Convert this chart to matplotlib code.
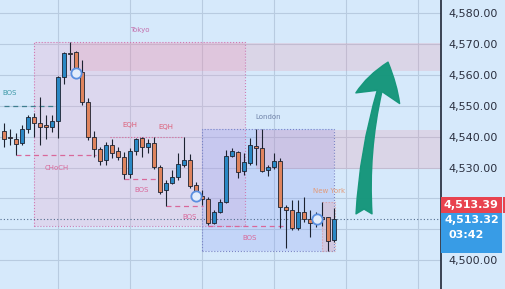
import matplotlib
matplotlib.use("Agg")
import matplotlib.pyplot as plt
from matplotlib.patches import Rectangle
from matplotlib.transforms import blended_transform_factory

# --- candles ---
OPEN = [4541.8, 4539.7, 4539.2, 4537.9, 4542.5, 4546.3, 4544.4, 4543.8, 4543.1, 4545.0,
        4559.3, 4567.1, 4567.4, 4560.9, 4551.2, 4539.9, 4536.0, 4532.4, 4537.3, 4535.3,
        4533.4, 4527.9, 4535.3, 4539.5, 4536.6, 4537.9, 4530.2, 4522.7, 4525.0, 4526.9,
        4530.8, 4532.4, 4524.3, 4520.8, 4519.8, 4512.0, 4515.6, 4518.8, 4533.7, 4535.0,
        4528.9, 4531.5, 4537.0, 4536.3, 4529.2, 4530.2, 4532.1, 4517.2, 4516.2, 4510.4,
        4515.6, 4513.3, 4513.3, 4514.0, 4514.0, 4506.6]
CLOSE = [4539.2, 4539.5, 4537.6, 4542.5, 4546.3, 4544.4, 4543.1, 4543.1, 4545.0, 4559.3,
         4567.1, 4566.7, 4562.2, 4551.2, 4539.9, 4536.0, 4532.1, 4537.3, 4534.7, 4533.4,
         4527.9, 4535.3, 4539.2, 4536.6, 4537.9, 4530.2, 4522.1, 4525.0, 4526.9, 4531.1,
         4532.4, 4524.0, 4522.1, 4519.8, 4512.0, 4515.6, 4518.8, 4533.7, 4535.3, 4528.5,
         4531.8, 4537.3, 4536.3, 4528.9, 4530.2, 4532.1, 4517.2, 4516.2, 4510.4, 4515.6,
         4513.3, 4512.0, 4513.0, 4513.3, 4506.2, 4513.32]
HIGH = [4544.4, 4542.5, 4541.2, 4543.8, 4547.0, 4547.6, 4552.8, 4547.0, 4547.0, 4559.5,
        4567.4, 4570.6, 4567.7, 4564.8, 4552.5, 4541.8, 4536.6, 4538.3, 4539.2, 4536.6,
        4535.0, 4536.3, 4539.5, 4539.9, 4539.2, 4539.9, 4530.8, 4526.0, 4529.2, 4534.7,
        4539.9, 4534.4, 4525.3, 4522.7, 4520.5, 4516.2, 4519.8, 4535.7, 4536.3, 4535.3,
        4534.7, 4539.5, 4542.5, 4542.5, 4530.8, 4534.7, 4533.1, 4517.9, 4519.5, 4519.5,
        4520.5, 4516.2, 4515.6, 4518.8, 4514.0, 4516.9]
LOW = [4536.6, 4537.3, 4534.0, 4537.3, 4541.2, 4539.9, 4537.3, 4539.2, 4541.5, 4539.5,
       4557.0, 4561.6, 4560.9, 4550.2, 4538.9, 4533.4, 4530.8, 4530.8, 4533.1, 4532.4,
       4526.3, 4526.6, 4534.0, 4533.4, 4534.7, 4529.5, 4521.4, 4517.5, 4524.7, 4526.0,
       4530.2, 4523.4, 4521.4, 4517.9, 4511.4, 4511.7, 4515.3, 4518.5, 4533.4, 4526.6,
       4527.6, 4530.8, 4530.8, 4528.5, 4527.2, 4529.5, 4510.4, 4504.0, 4509.8, 4509.8,
       4512.4, 4507.5, 4510.7, 4511.1, 4503.0, 4505.9]

PRICE_TICKS = [4500, 4510, 4520, 4530, 4540, 4550, 4560, 4570, 4580]
HIDDEN_TICKS = [4510, 4520]   # covered by the price tags
TIME_GRID = [9, 21, 33, 45, 57, 69]
LAST_PRICE = 4513.32
OTHER_PRICE = 4513.39
COUNTDOWN = "03:42"

# sessions: name, first bar, last bar, high, low
SESSIONS = [
    ("Tokyo", 5, 40.2, 4570.6, 4511.1),
    ("London", 33, 55, 4542.5, 4503.0),
    ("New York", 53, 55.2, 4518.8, 4503.0),
]
# supply zones: start bar, top, bottom
ZONES = [(11, 4570.3, 4561.3), (42, 4542.1, 4529.5)]

# structure levels: label, from bar, to bar, price, label bar, label price
LEVELS = [
    ("BOS", 0, 9, 4549.9, 1, 4554.1),
    ("CHoCH", 2, 15.3, 4534.0, 8.8, 4529.8),
    ("BOS", 20, 26, 4526.3, 23, 4522.7),
    ("BOS", 27, 33.2, 4517.5, 31, 4514.0),
    ("BOS", 34, 47, 4511.1, 41, 4507.2),
]
EQH_LINE = (17.7, 30, 4539.9)
EQH_LABELS = [(21, 4543.8), (27, 4543.1)]
CIRCLES_X = [12, 32, 52.2]
CIRCLES_Y = [4560.6, 4520.8, 4513.3]
ARROW_FROM = (60, 4515.0)
ARROW_TO = (64, 4564.1)

BG = "#d6e9fb"
BULL = "#2a88c4"
BEAR = "#df845e"
PINK = "#d9689a"

fig = plt.figure(figsize=(5.06, 2.89), dpi=100, facecolor=BG)
ax = fig.add_axes([0, 0, 441 / 506, 1])
ax.set_facecolor(BG)
ax.set_xlim(-0.67, 72.83)
ax.set_ylim(4490.7, 4584.2)

ax.set_yticks(PRICE_TICKS)
ax.set_yticklabels(["" if p in HIDDEN_TICKS else f"{p:,.2f}" for p in PRICE_TICKS])
ax.yaxis.tick_right()
ax.tick_params(axis="y", length=0, pad=5, labelsize=8, labelcolor="#2b3040")
ax.set_xticks(TIME_GRID)
ax.tick_params(axis="x", length=0, labelbottom=False)
ax.grid(color="#b8cbe0", lw=0.8)
ax.set_axisbelow(True)
for side in ["left", "top", "bottom"]:
    ax.spines[side].set_visible(False)
ax.spines["right"].set_color("#1f2636")
ax.spines["right"].set_linewidth(1.2)

# sessions
sess_style = {
    "Tokyo": ("#f29ac4", 0.22, "#d07ab2", "#c46fac"),
    "London": ("#8c9cf2", 0.25, "#7b84c6", "#6f82a8"),
    "New York": ("#eab0b4", 0.35, "#d8a0a8", "#e39a78"),
}
for name, x0, x1, hi, lo in SESSIONS:
    fc, a, ec, tc = sess_style[name]
    ax.add_patch(Rectangle((x0, lo), x1 - x0, hi - lo, fc=fc, alpha=a, ec="none", zorder=1))
    ax.add_patch(Rectangle((x0, lo), x1 - x0, hi - lo, fc="none", ec=ec, lw=0.8, ls=":", zorder=1.2))
    ax.text((x0 + x1) / 2, hi + (4.0 if name != "New York" else 3.6), name,
            ha="center", va="center", fontsize=5, color=tc)

for x0, top, bot in ZONES:
    ax.add_patch(Rectangle((x0, bot), 72.83 - x0, top - bot, fc="#f07c90", alpha=0.18, ec="none", zorder=1.1))

# structure
for i, (lab, x0, x1, y, lx, ly) in enumerate(LEVELS):
    col = "#3f7f8f" if i == 0 else PINK
    ax.plot([x0, x1], [y, y], color=col, lw=0.9, ls=(0, (4, 3)), zorder=2)
    ax.text(lx, ly, lab, ha="center", va="center", fontsize=5,
            color="#3e9aa8" if i == 0 else PINK)
ax.plot(EQH_LINE[:2], [EQH_LINE[2]] * 2, color=PINK, lw=0.8, ls=":", zorder=2)
for lx, ly in EQH_LABELS:
    ax.text(lx, ly, "EQH", ha="center", va="center", fontsize=5, color="#dc5f78")

ax.axhline(LAST_PRICE, color="#4f6a8c", lw=0.8, ls=(0, (1, 2)), zorder=2)

# candles
xs = list(range(len(OPEN)))
bottoms = [min(o, c) for o, c in zip(OPEN, CLOSE)]
heights = [max(abs(c - o), 0.4) for o, c in zip(OPEN, CLOSE)]
colors = [BULL if c >= o else BEAR for o, c in zip(OPEN, CLOSE)]
ax.vlines(xs, LOW, HIGH, color="#1c2230", lw=0.8, zorder=3)
ax.bar(xs, heights, bottom=bottoms, width=0.8, color=colors, edgecolor="#1c2230", lw=0.6, zorder=4)

ax.scatter(CIRCLES_X, CIRCLES_Y, s=55, fc="#e2ecfb", ec="#5a8fe0", lw=1.3, zorder=5)

# arrow
ax.annotate("", xy=ARROW_TO, xytext=ARROW_FROM,
            arrowprops=dict(arrowstyle="fancy,head_length=0.75,head_width=0.9,tail_width=0.32",
                            fc="#14967a", ec="#14967a", alpha=0.97,
                            connectionstyle="arc3,rad=-0.08",
                            mutation_scale=36, shrinkA=0, shrinkB=0),
            zorder=6)

# price tags on the scale
tr = blended_transform_factory(ax.transAxes, ax.transData)
ax.add_patch(Rectangle((1.0, 4515.3), 0.138, 5.3, transform=tr, fc="#e8434f", ec="none",
                       clip_on=False, zorder=7))
ax.add_patch(Rectangle((1.141, 4515.3), 0.01, 5.3, transform=tr, fc="#e8434f", ec="none",
                       clip_on=False, zorder=7))
ax.text(1.069, 4517.9, f"{OTHER_PRICE:,.2f}", transform=tr, ha="center", va="center",
        fontsize=8, color="white", fontweight="semibold", zorder=8)
ax.add_patch(Rectangle((1.0, 4502.5), 0.138, 12.8, transform=tr, fc="#389ce6", ec="none",
                       clip_on=False, zorder=7))
ax.text(1.069, 4512.9, f"{LAST_PRICE:,.2f}", transform=tr, ha="center", va="center",
        fontsize=8, color="white", fontweight="semibold", zorder=8)
ax.text(1.016, 4508.3, COUNTDOWN, transform=tr, ha="left", va="center",
        fontsize=8, color="white", fontweight="semibold", zorder=8)

fig.savefig("out.png", dpi=100, facecolor=BG)
